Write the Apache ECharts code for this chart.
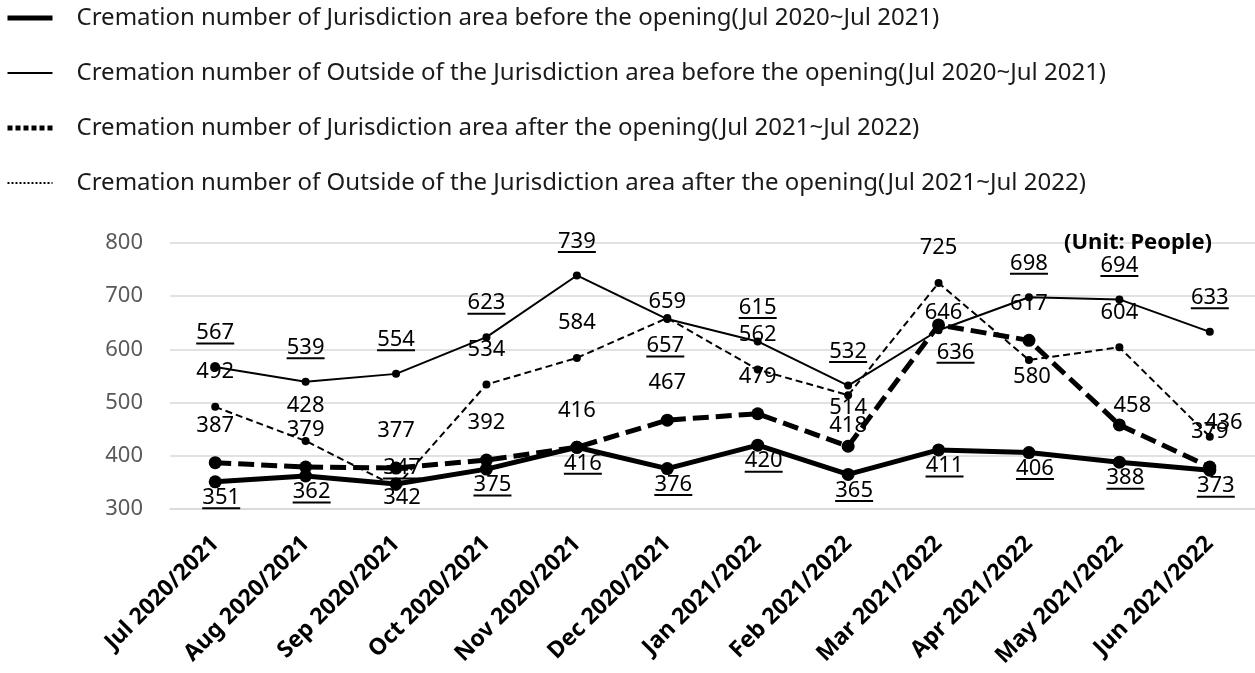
<!DOCTYPE html>
<html lang="en" style="height: 100%">

<head>
  <meta charset="utf-8" />
</head>

<body style="height: 100%; margin: 0; background: #fff">
  <div id="container" style="width: 1255px; height: 673px"></div>

  <script type="text/javascript" src="https://fastly.jsdelivr.net/npm/echarts@6.0.0/dist/echarts.min.js"></script>

  <script type="text/javascript">
    // chart values
    var months = [
      "Jul 2020/2021", "Aug 2020/2021", "Sep 2020/2021", "Oct 2020/2021",
      "Nov 2020/2021", "Dec 2020/2021", "Jan 2021/2022", "Feb 2021/2022",
      "Mar 2021/2022", "Apr 2021/2022", "May 2021/2022", "Jun 2021/2022"
    ];
    var jurisdictionBefore = [351, 362, 347, 375, 416, 376, 420, 365, 411, 406, 388, 373];
    var outsideBefore = [567, 539, 554, 623, 739, 657, 615, 532, 636, 698, 694, 633];
    var jurisdictionAfter = [387, 379, 377, 392, 416, 467, 479, 418, 646, 617, 458, 379];
    var outsideAfter = [492, 428, 342, 534, 584, 659, 562, 514, 725, 580, 604, 436];
    var yTicks = [300, 400, 500, 600, 700, 800];

    var names = [
      "Cremation number of Jurisdiction area before the opening(Jul 2020~Jul 2021)",
      "Cremation number of Outside of the Jurisdiction area before the opening(Jul 2020~Jul 2021)",
      "Cremation number of Jurisdiction area after the opening(Jul 2021~Jul 2022)",
      "Cremation number of Outside of the Jurisdiction area after the opening(Jul 2021~Jul 2022)"
    ];

    var FONT = "Noto Sans";

    // label placement: default offset per series, plus a few points that sit elsewhere
    function withLabels(values, base, special) {
      return values.map(function (v, i) {
        return { value: v, label: { offset: special[i] || base } };
      });
    }

    function underline(p) {
      return "{n|" + p.value + "}\n{u|}";
    }

    var underRich = {
      n: { fontFamily: FONT, fontSize: 22, lineHeight: 19, color: "#000" },
      u: { width: 38, height: 2, lineHeight: 2, backgroundColor: "#000" }
    };

    var dom = document.getElementById("container");
    var myChart = echarts.init(dom, null, { renderer: "canvas" });

    var option = {
      animation: false,
      backgroundColor: "#fff",
      legend: {
        orient: "vertical",
        left: 0,
        top: 1,
        itemWidth: 45,
        itemHeight: 6,
        itemGap: 31,
        itemStyle: { opacity: 0 },
        textStyle: {
          fontFamily: FONT,
          fontSize: 24,
          lineHeight: 24,
          color: "#1a1a1a",
          padding: [0, 0, 0, 19]
        },
        data: [
          { name: names[0], lineStyle: { type: "solid", width: 5 } },
          { name: names[1], lineStyle: { type: "solid", width: 2 } },
          { name: names[2], lineStyle: { type: [5, 3], width: 5 } },
          { name: names[3], lineStyle: { type: [2, 2], width: 2 } }
        ]
      },
      grid: { left: 170, right: 0, top: 243, bottom: 164 },
      graphic: [
        {
          type: "text",
          left: 1064,
          top: 232,
          z: 10,
          style: {
            text: "(Unit: People)",
            font: "bold 22px 'Noto Sans'",
            fill: "#000"
          }
        }
      ],
      xAxis: {
        type: "category",
        data: months,
        boundaryGap: true,
        axisLine: { lineStyle: { color: "#d9d9d9", width: 1.5 } },
        axisTick: { show: false },
        axisLabel: {
          rotate: 45,
          interval: 0,
          margin: 31,
          fontFamily: FONT,
          fontSize: 23,
          fontWeight: "bold",
          color: "#000"
        }
      },
      yAxis: {
        type: "value",
        min: yTicks[0],
        max: yTicks[yTicks.length - 1],
        interval: 100,
        axisLine: { show: false },
        axisTick: { show: false },
        axisLabel: {
          margin: 27,
          fontFamily: FONT,
          fontSize: 22,
          color: "#595959"
        },
        splitLine: { lineStyle: { color: "#d9d9d9", width: 1.5 } }
      },
      series: [
        {
          name: names[0],
          type: "line",
          data: withLabels(jurisdictionBefore, [6, 17], { 2: [6, -15] }),
          symbol: "circle",
          symbolSize: 13,
          itemStyle: { color: "#000" },
          lineStyle: { color: "#000", width: 5 },
          label: { show: true, position: "inside", formatter: underline, rich: underRich }
        },
        {
          name: names[1],
          type: "line",
          data: withLabels(outsideBefore, [0, -33], { 5: [-2, 28], 8: [17, 23] }),
          symbol: "circle",
          symbolSize: 8,
          itemStyle: { color: "#000" },
          lineStyle: { color: "#000", width: 2 },
          label: { show: true, position: "inside", formatter: underline, rich: underRich }
        },
        {
          name: names[2],
          type: "line",
          data: withLabels(jurisdictionAfter, [0, -37], {
            7: [0, -20], 8: [5, -12], 10: [13, -19], 11: [0, -35]
          }),
          symbol: "circle",
          symbolSize: 13,
          itemStyle: { color: "#000" },
          lineStyle: { color: "#000", width: 5, type: [16, 7] },
          label: {
            show: true,
            position: "inside",
            fontFamily: FONT,
            fontSize: 22,
            color: "#000"
          }
        },
        {
          name: names[3],
          type: "line",
          data: withLabels(outsideAfter, [0, -35], {
            2: [6, 11], 5: [0, -16], 7: [0, 13], 9: [3, 17], 11: [14, -14]
          }),
          symbol: "circle",
          symbolSize: 8,
          itemStyle: { color: "#000" },
          lineStyle: { color: "#000", width: 2, type: [7, 4] },
          label: {
            show: true,
            position: "inside",
            fontFamily: FONT,
            fontSize: 22,
            color: "#000"
          }
        }
      ]
    };

    myChart.setOption(option);
    window.addEventListener("resize", myChart.resize);
  </script>
</body>

</html>
